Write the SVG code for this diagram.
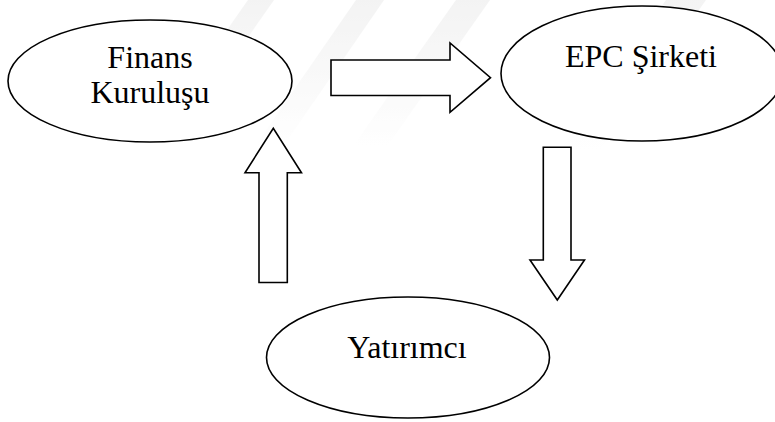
<svg xmlns="http://www.w3.org/2000/svg" width="775" height="422" viewBox="0 0 775 422">
  <defs>
    <linearGradient id="wm" x1="0" y1="0" x2="0" y2="1">
      <stop offset="0" stop-color="#ececec"/>
      <stop offset="1" stop-color="#ffffff"/>
    </linearGradient>
    <style>
      .node { fill: #ffffff; stroke: #000000; stroke-width: 1.6; }
      .arrow { fill: #ffffff; stroke: #000000; stroke-width: 1.6; stroke-linejoin: miter; }
      .label { font-size: 32px; fill: #000000; text-anchor: middle; }
    </style>
  </defs>
  <rect width="775" height="422" fill="#ffffff"/>
  <g id="watermark" fill="url(#wm)" opacity="0.6">
    <polygon points="248,0 274,0 190,120 164,120"/>
    <polygon points="356,0 384,0 284,145 256,145"/>
    <polygon points="456,0 490,0 388,145 354,145"/>
    <polygon points="666,0 706,0 600,150 560,150"/>
  </g>
  <g id="connectors">
    <polygon class="arrow" points="331,60 450,60 450,43 490.5,77.7 450,112.3 450,95.5 331,95.5"/>
    <polygon class="arrow" points="259,282.5 259,172.7 245,172.7 273.3,128.3 301.5,172.7 287.3,172.7 287.3,282.5"/>
    <polygon class="arrow" points="543.3,147.3 571,147.3 571,260 584.5,260 557.3,300 530,260 543.3,260"/>
  </g>
  <g id="finans">
    <ellipse class="node" cx="150" cy="81" rx="142" ry="61"/>
    <text class="label" font-family="'Liberation Serif', 'Times New Roman', serif" x="150" y="68">Finans</text>
    <text class="label" font-family="'Liberation Serif', 'Times New Roman', serif" x="150" y="103">Kuruluşu</text>
  </g>
  <g id="epc">
    <ellipse class="node" cx="642" cy="73.5" rx="141" ry="67.5"/>
    <text class="label" font-family="'Liberation Serif', 'Times New Roman', serif" x="641" y="66.5">EPC Şirketi</text>
  </g>
  <g id="yatirimci">
    <ellipse class="node" cx="408" cy="357.5" rx="141.5" ry="60.5"/>
    <text class="label" font-family="'Liberation Serif', 'Times New Roman', serif" x="407" y="358">Yatırımcı</text>
  </g>
</svg>
